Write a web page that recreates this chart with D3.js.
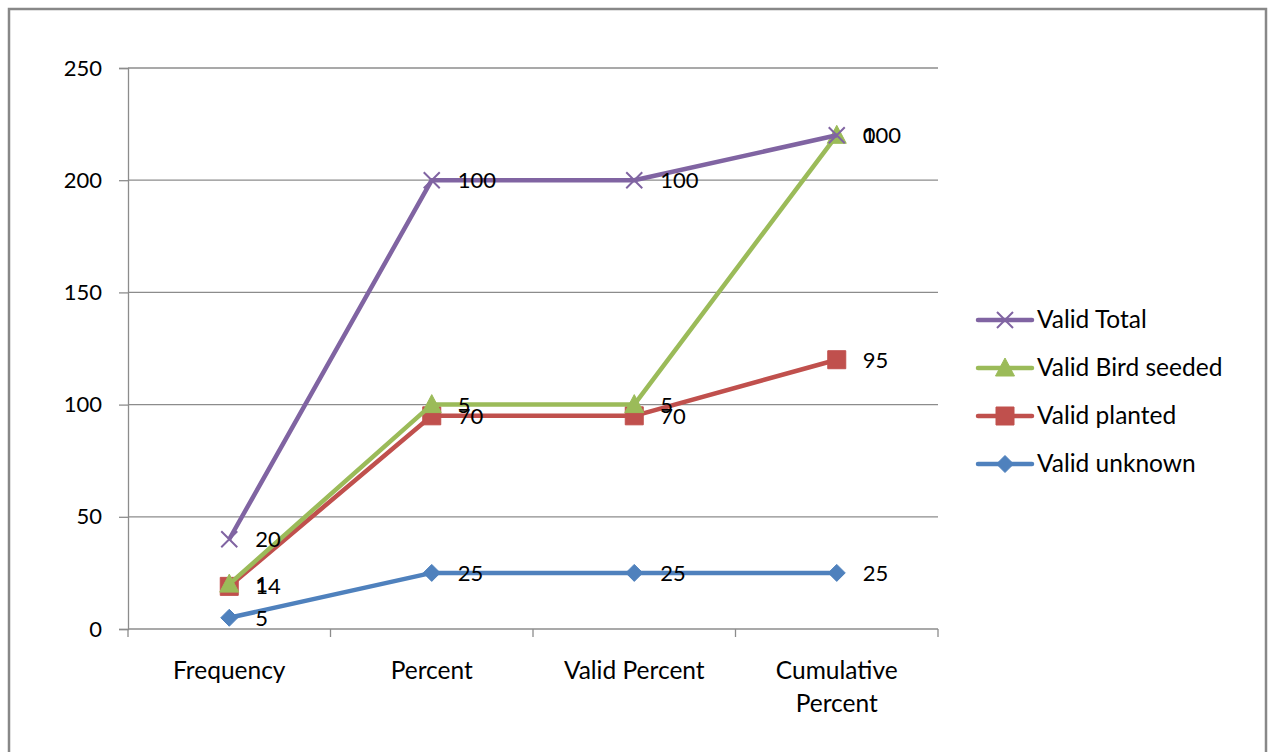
<!DOCTYPE html>
<html>
<head>
<meta charset="utf-8">
<script src="https://cdn.jsdelivr.net/npm/d3@7"></script>
<style>
  html, body { margin: 0; padding: 0; background: #fff; }
  svg { display: block; }
  text { font-family: Lato, "Open Sans", sans-serif; fill: #000; }
</style>
</head>
<body>
<svg id="chart" width="1268" height="752"></svg>
<script>
// Categories along the x axis
const categories = ["Frequency", "Percent", "Valid Percent", "Cumulative Percent"];
// Series values (drawn stacked, first series at the bottom)
const validUnknown = [5, 25, 25, 25];
const validPlanted = [14, 70, 70, 95];
const validBirdSeeded = [1, 5, 5, 100];
const validTotal = [20, 100, 100, 0];
// Y axis ticks
const yTicks = [0, 50, 100, 150, 200, 250];

const seriesNames = ["Valid unknown", "Valid planted", "Valid Bird seeded", "Valid Total"];
const seriesValues = [validUnknown, validPlanted, validBirdSeeded, validTotal];
const colors = ["#4F81BD", "#C0504D", "#9BBB59", "#8064A2"];
const markers = ["diamond", "square", "triangle", "cross"];

const numSize = 22, wordSize = 24.5;

const svg = d3.select("#chart");

// outer frame
svg.append("path")
  .attr("d", "M9,760 V9 H1266 V760")
  .attr("fill", "none").attr("stroke", "#888").attr("stroke-width", 2.5);

const plotLeft = 128, plotRight = 938, plotTop = 68, plotBottom = 629;

const x = d3.scaleBand().domain(categories).range([plotLeft, plotRight]).padding(0);
const y = d3.scaleLinear().domain([0, 250]).range([plotBottom, plotTop]);

// gridlines
svg.append("g").selectAll("line").data(yTicks.filter(t => t > 0)).join("line")
  .attr("x1", plotLeft).attr("x2", plotRight)
  .attr("y1", d => y(d)).attr("y2", d => y(d))
  .attr("stroke", "#8c8c8c").attr("stroke-width", 1.3);

// y axis
const yAxis = svg.append("g").attr("transform", `translate(${plotLeft},0)`)
  .call(d3.axisLeft(y).tickValues(yTicks).tickSize(9).tickPadding(17));
yAxis.select(".domain").attr("stroke", "#8c8c8c").attr("stroke-width", 1.3);
yAxis.selectAll(".tick line").attr("stroke", "#8c8c8c").attr("stroke-width", 1.3);
yAxis.selectAll("text").attr("font-size", numSize).attr("font-family", "Lato, sans-serif").attr("fill", "#000");

// x axis with ticks at category boundaries
const xg = svg.append("g");
xg.append("line").attr("x1", plotLeft).attr("x2", plotRight).attr("y1", plotBottom).attr("y2", plotBottom)
  .attr("stroke", "#8c8c8c").attr("stroke-width", 1.3);
const boundaries = categories.map(c => x(c)).concat([x(categories[categories.length - 1]) + x.bandwidth()]);
xg.selectAll("line.tk").data(boundaries).join("line").attr("class", "tk")
  .attr("x1", d => d).attr("x2", d => d).attr("y1", plotBottom).attr("y2", plotBottom + 8)
  .attr("stroke", "#8c8c8c").attr("stroke-width", 1.3);
const xLabelLines = { "Cumulative Percent": ["Cumulative", "Percent"] };
categories.forEach(c => {
  const lines = xLabelLines[c] || [c];
  const t = xg.append("text").attr("text-anchor", "middle").attr("font-size", wordSize)
    .attr("x", x(c) + x.bandwidth() / 2).attr("y", 679);
  lines.forEach((ln, i) => t.append("tspan").attr("x", x(c) + x.bandwidth() / 2).attr("dy", i ? 33 : 0).text(ln));
});

// stacked data
const table = categories.map((c, i) => {
  const row = { cat: c };
  seriesNames.forEach((s, k) => row[s] = seriesValues[k][i]);
  return row;
});
const stacked = d3.stack().keys(seriesNames)(table);

function markerPath(type) {
  switch (type) {
    case "diamond": return "M0,-8.5 L8.5,0 L0,8.5 L-8.5,0 Z";
    case "square": return "M-9,-9 H9 V9 H-9 Z";
    case "triangle": return "M0,-10 L9.5,8 L-9.5,8 Z";
    case "cross": return "M-8,-8 L8,8 M8,-8 L-8,8";
  }
}
function drawMarker(g, type, color, cx, cy) {
  const p = g.append("path").attr("d", markerPath(type)).attr("transform", `translate(${cx},${cy})`);
  if (type === "cross") p.attr("fill", "none").attr("stroke", color).attr("stroke-width", 2);
  else p.attr("fill", color).attr("stroke", color).attr("stroke-width", 1);
}

const cx = d => x(d.data.cat) + x.bandwidth() / 2;
const line = d3.line().x(cx).y(d => y(d[1]));

stacked.forEach((layer, k) => {
  const g = svg.append("g");
  g.append("path").datum(layer).attr("d", line)
    .attr("fill", "none").attr("stroke", colors[k]).attr("stroke-width", 4.5)
    .attr("stroke-linejoin", "round");
  layer.forEach(d => drawMarker(g, markers[k], colors[k], cx(d), y(d[1])));
});

// data labels (original values, positioned at stacked heights)
stacked.forEach((layer, k) => {
  svg.append("g").selectAll("text").data(layer).join("text")
    .attr("x", d => cx(d) + 26).attr("y", d => y(d[1]) + 8)
    .attr("font-size", numSize)
    .text(d => d.data[layer.key]);
});

// legend (top entry is the last series)
const legendOrder = [3, 2, 1, 0];
legendOrder.forEach((k, i) => {
  const ly = 320 + i * 48;
  const g = svg.append("g");
  g.append("line").attr("x1", 978).attr("x2", 1032).attr("y1", ly).attr("y2", ly)
    .attr("stroke", colors[k]).attr("stroke-width", 4.5).attr("stroke-linecap", "round");
  drawMarker(g, markers[k], colors[k], 1005, ly);
  g.append("text").attr("x", 1037).attr("y", ly + 8).attr("font-size", wordSize).text(seriesNames[k]);
});
</script>
</body>
</html>
